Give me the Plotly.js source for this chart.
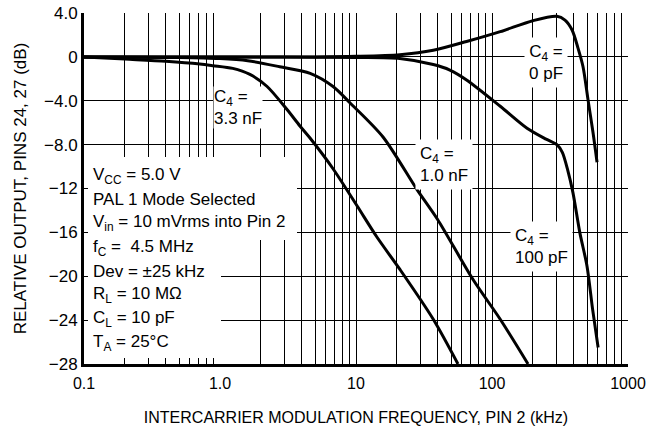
<!DOCTYPE html>
<html><head><meta charset="utf-8">
<script src="https://cdn.plot.ly/plotly-3.0.1.min.js"></script>
<style>html,body{margin:0;padding:0;background:#fff}</style>
</head><body><div id="chart" style="width:663px;height:429px"></div>
<script>
// ---- data ----
const freq0pF = [0.1, 1, 5, 10, 21, 37, 65, 115, 200, 300, 344, 388, 429, 467, 508, 553, 592];
const gain0pF = [0, 0, 0, 0.05, 0.2, 0.6, 1.4, 2.3, 3.3, 3.7, 3.35, 2.45, 0.8, -0.9, -3.9, -6.9, -9.6];

const freq100pF = [0.1, 1, 10, 21, 37, 49, 65, 115, 181, 250, 300, 329, 360, 394, 442, 500, 549, 603];
const gain100pF = [0, 0, -0.05, -0.15, -0.7, -1.2, -2.1, -4.5, -6.5, -7.5, -8.0, -8.7, -10.3, -12.4, -16, -19.1, -23, -26.5];

const freq1nF = [0.1, 0.5, 1.0, 1.6, 2.75, 4.6, 6.78, 9.05, 15.8, 28.1, 39.7, 72.5, 114.6, 184];
const gain1nF = [0, -0.05, -0.15, -0.35, -0.9, -1.5, -2.7, -4.2, -7.3, -12.1, -14.8, -20.3, -23.9, -28];

const freq3n3F = [0.1, 0.2, 0.4, 0.71, 0.89, 1.24, 1.66, 2.22, 3.11, 3.87, 4.59, 6.78, 10.2, 14.2, 21.1, 36.9, 56.2];
const gain3n3F = [0, -0.2, -0.4, -0.65, -0.8, -1.05, -1.6, -2.7, -4.8, -6.3, -7.4, -10.2, -13.6, -16.4, -19.4, -23.9, -28];

const gridFreqs = [0.2,0.3,0.4,0.5,0.6,0.7,0.8,0.9,
                   2,3,4,5,6,7,8,9,10,
                   20,30,40,50,60,70,80,90,100,
                   200,300,400,500,600,700,800,900,1000];
const xTickVals = [0.1, 1, 10, 100, 1000];
const xTickText = ['0.1', '1.0', '10', '100', '1000'];
const yTickVals = [4, 0, -4, -8, -12, -16, -20, -24, -28];
const yTickText = ['4.0', '0', '\u22124.0', '\u22128.0', '\u221212', '\u221216', '\u221220', '\u221224', '\u221228'];

const conditions = [
  'V<sub>CC</sub> = 5.0 V',
  'PAL 1 Mode Selected',
  'V<sub>in</sub> = 10 mVrms into Pin 2',
  'f<sub>C</sub> =  4.5 MHz',
  'Dev = \u00b125 kHz',
  'R<sub>L</sub> = 10 M\u03a9',
  'C<sub>L</sub> = 10 pF',
  'T<sub>A</sub> = 25\u00b0C'
];

// ---- layout helpers (pixel -> paper) ----
const L = 84, R = 628, T = 13, B = 364;
const px = v => (v - L) / (R - L);
const py = v => (B - v) / (B - T);
const FONT = 'Liberation Sans, Arial, Helvetica, sans-serif';

const lineStyle = {color: '#000', width: 3, shape: 'spline', smoothing: 0.8};
const traces = [
  {x: freq0pF, y: gain0pF},
  {x: freq100pF, y: gain100pF},
  {x: freq1nF, y: gain1nF},
  {x: freq3n3F, y: gain3n3F}
].map(t => Object.assign(t, {type: 'scatter', mode: 'lines', line: lineStyle, hoverinfo: 'skip', showlegend: false}));
traces.push({type: 'scatter', x: [], y: [], xaxis: 'x2', yaxis: 'y', showlegend: false, hoverinfo: 'skip'});

const condCenters = [176, 199, 223, 248, 271, 295, 319, 342.5];
const annotations = conditions.map((t, i) => ({
  text: t, xref: 'paper', yref: 'paper', x: px(91), y: py(condCenters[i]),
  xanchor: 'left', yanchor: 'middle', align: 'left', showarrow: false,
  font: {family: FONT, size: 17, color: '#000'}
}));

const labelDefs = [
  {text: 'C<sub>4</sub> =<br>3.3 nF', x: 213, y: 108, xa: 'left', al: 'left', pad: 0},
  {text: 'C<sub>4</sub> =<br>1.0 nF', x: 415, y: 164, xa: 'left', al: 'left', pad: 4},
  {text: 'C<sub>4</sub> =<br>0 pF', x: 546, y: 62, xa: 'center', al: 'center', pad: 4},
  {text: 'C<sub>4</sub> =<br>100 pF', x: 510, y: 246, xa: 'left', al: 'left', pad: 4}
];
labelDefs.forEach(d => annotations.push({
  text: d.text, xref: 'paper', yref: 'paper', x: px(d.x), y: py(d.y),
  xanchor: d.xa, yanchor: 'middle', align: d.al, showarrow: false,
  bgcolor: '#fff', borderpad: d.pad,
  font: {family: FONT, size: 17, color: '#000'}
}));

const shapes = [
  {type: 'rect', xref: 'paper', yref: 'paper', x0: px(88), x1: px(297), y0: py(240), y1: py(157), fillcolor: '#fff', line: {width: 0}, layer: 'above'},
  {type: 'rect', xref: 'paper', yref: 'paper', x0: px(88), x1: px(221), y0: py(358), y1: py(240), fillcolor: '#fff', line: {width: 0}, layer: 'above'}
];

const layout = {
  width: 663, height: 429,
  margin: {l: L, r: 663 - R, t: T, b: 429 - B, pad: 0},
  paper_bgcolor: '#fff', plot_bgcolor: '#fff',
  font: {family: FONT, color: '#000'},
  showlegend: false,
  xaxis: {
    type: 'log', range: [-1, 3], tickmode: 'array', tickvals: gridFreqs,
    showticklabels: false, ticks: '', showgrid: true, gridcolor: '#000', gridwidth: 1,
    showline: true, linecolor: '#000', linewidth: 2.5, zeroline: false, fixedrange: true
  },
  xaxis2: {
    type: 'log', range: [-1, 3], overlaying: 'x', anchor: 'y', side: 'bottom',
    tickmode: 'array', tickvals: xTickVals, ticktext: xTickText,
    showgrid: false, ticks: '', zeroline: false, showline: false,
    ticklabelstandoff: 8,
    tickfont: {family: FONT, size: 16, color: '#000'},
    title: {text: 'INTERCARRIER MODULATION FREQUENCY, PIN 2 (kHz)', font: {family: FONT, size: 16, color: '#000'}, standoff: 20},
    fixedrange: true
  },
  yaxis: {
    range: [-28, 4], tickmode: 'array', tickvals: yTickVals, ticktext: yTickText,
    showgrid: true, gridcolor: '#000', gridwidth: 1, zeroline: false,
    showline: true, linecolor: '#000', linewidth: 3, ticks: '', ticklen: 0,
    ticklabelstandoff: 0,
    tickfont: {family: FONT, size: 17, color: '#000'},
    title: {text: 'RELATIVE OUTPUT, PINS 24, 27 (dB)', font: {family: FONT, size: 17, color: '#000'}, standoff: 14},
    fixedrange: true
  },
  shapes: shapes,
  annotations: annotations
};

Plotly.newPlot('chart', traces, layout, {staticPlot: true, displayModeBar: false});
</script>
</body></html>
